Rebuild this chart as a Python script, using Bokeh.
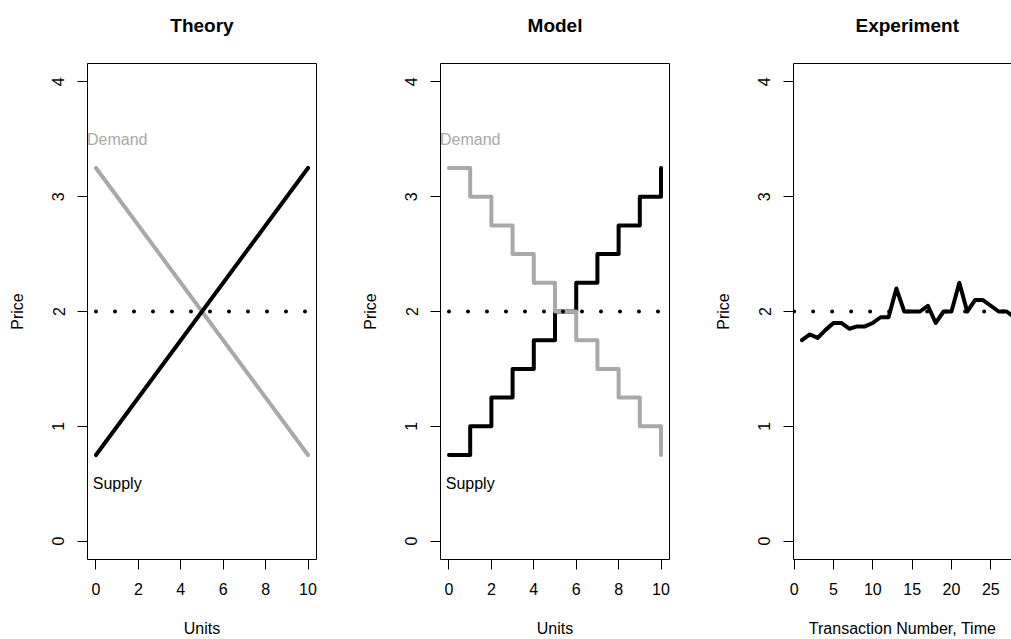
from bokeh.plotting import figure
from bokeh.layouts import row
from bokeh.models import Range1d, FixedTicker, LinearAxis
from bokeh.core.properties import value
from bokeh.embed import file_html
from bokeh.resources import INLINE

# ---------------- data ----------------
units = [0, 1, 2, 3, 4, 5, 6, 7, 8, 9, 10]
theory_x = [0, 10]
theory_supply = [0.75, 3.25]
theory_demand = [3.25, 0.75]
model_supply = [0.75, 1.00, 1.25, 1.50, 1.75, 2.00, 2.25, 2.50, 2.75, 3.00, 3.25]
model_demand = [3.25, 3.00, 2.75, 2.50, 2.25, 2.00, 1.75, 1.50, 1.25, 1.00, 0.75]
transactions = list(range(1, 29))
exp_price = [1.75, 1.80, 1.77, 1.84, 1.90, 1.90, 1.85, 1.87, 1.87, 1.90,
             1.95, 1.95, 2.20, 2.00, 2.00, 2.00, 2.05, 1.90, 2.00, 2.00,
             2.25, 2.00, 2.10, 2.10, 2.05, 2.00, 2.00, 1.95]
eq_price = 2.0
eq_x_units = [0, 10]
eq_x_time = [0, 30]
label_x = [1]
demand_label_y = [3.5]
supply_label_y = [0.5]
x_ticks_units = [0, 2, 4, 6, 8, 10]
x_ticks_time = [0, 5, 10, 15, 20, 25]
y_ticks = [0, 1, 2, 3, 4]

FONT = "Liberation Sans"
GREY = "#A9A9A9"


def style_axis(ax, ticks, label, vertical=False):
    ax.ticker = FixedTicker(ticks=ticks)
    ax.minor_tick_line_color = None
    ax.major_tick_in = 0
    ax.major_tick_out = 10
    ax.major_tick_line_color = "black"
    ax.axis_line_color = "black"
    ax.major_label_text_font = FONT
    ax.major_label_text_font_size = "16px"
    ax.major_label_text_color = "black"
    ax.axis_label = label
    ax.axis_label_text_font = FONT
    ax.axis_label_text_font_size = "16px"
    ax.axis_label_text_font_style = "normal"
    ax.axis_label_text_color = "black"
    if vertical:
        ax.major_label_orientation = "vertical"
        ax.major_label_standoff = 13
        ax.axis_label_standoff = 24
    else:
        ax.major_label_standoff = 13
        ax.axis_label_standoff = 22


def plain_axis(p, side, spacer=None):
    ax = LinearAxis(ticker=FixedTicker(ticks=[]), major_tick_out=0, major_tick_in=0,
                    minor_tick_out=0, minor_tick_in=0, major_label_text_font_size="0px",
                    axis_line_color="black", major_label_standoff=0)
    if spacer is not None:
        ax.axis_label = " "
        ax.axis_label_text_font_size = "1px"
        ax.axis_label_standoff = spacer
    p.add_layout(ax, side)


def make_panel(title, width, border_right, x_range, xlabel, xticks, right_axis=True):
    p = figure(width=width, height=639, x_range=x_range, y_range=Range1d(-0.16, 4.16),
               output_backend="svg", toolbar_location=None,
               min_border_left=87, min_border_right=border_right,
               min_border_top=63, min_border_bottom=79, title=title)
    p.outline_line_color = None
    p.grid.visible = False
    p.background_fill_color = "white"
    p.border_fill_color = "white"
    style_axis(p.xaxis[0], xticks, xlabel)
    style_axis(p.yaxis[0], y_ticks, "Price", vertical=True)
    plain_axis(p, "above", spacer=19)
    if right_axis:
        plain_axis(p, "right")
    p.title.text_font = FONT
    p.title.text_font_size = "19px"
    p.title.text_font_style = "bold"
    p.title.text_color = "black"
    p.title.align = "center"
    p.title.standoff = 10
    return p


# Theory
p1 = make_panel("Theory", 353, 37, Range1d(-0.4, 10.4), "Units", x_ticks_units)
p1.line(theory_x, theory_demand, line_color=GREY, line_width=4, line_cap="round")
p1.line(theory_x, theory_supply, line_color="black", line_width=4, line_cap="round")
p1.line(eq_x_units, [eq_price] * len(eq_x_units), line_color="black", line_width=4,
        line_dash="0 19", line_cap="round")
p1.text(x=label_x, y=demand_label_y, text=["Demand"], text_color=GREY,
        text_font=value(FONT), text_font_size="16px", text_align="center", text_baseline="middle")
p1.text(x=label_x, y=supply_label_y, text=["Supply"], text_color="black",
        text_font=value(FONT), text_font_size="16px", text_align="center", text_baseline="middle")

# Model
p2 = make_panel("Model", 353, 37, Range1d(-0.4, 10.4), "Units", x_ticks_units)
p2.step(units, model_supply, mode="after", line_color="black", line_width=4,
        line_cap="round", line_join="round")
p2.step(units, model_demand, mode="after", line_color=GREY, line_width=4,
        line_cap="round", line_join="round")
p2.line(eq_x_units, [eq_price] * len(eq_x_units), line_color="black", line_width=4,
        line_dash="0 19", line_cap="round")
p2.text(x=label_x, y=demand_label_y, text=["Demand"], text_color=GREY,
        text_font=value(FONT), text_font_size="16px", text_align="center", text_baseline="middle")
p2.text(x=label_x, y=supply_label_y, text=["Supply"], text_color="black",
        text_font=value(FONT), text_font_size="16px", text_align="center", text_baseline="middle")

# Experiment (panel runs off the right edge of the page)
p3 = make_panel("Experiment", 305, 0, Range1d(-0.08, 27.63), "Transaction Number, Time",
                x_ticks_time, right_axis=False)
p3.title.align = "left"
p3.title.offset = 62
p3.line(transactions, exp_price, line_color="black", line_width=4,
        line_cap="round", line_join="round")
p3.line(eq_x_time, [eq_price] * len(eq_x_time), line_color="black", line_width=4,
        line_dash="0 19", line_cap="round")

layout = row(p1, p2, p3, spacing=0)
open("out.html", "w").write(file_html(layout, INLINE))
